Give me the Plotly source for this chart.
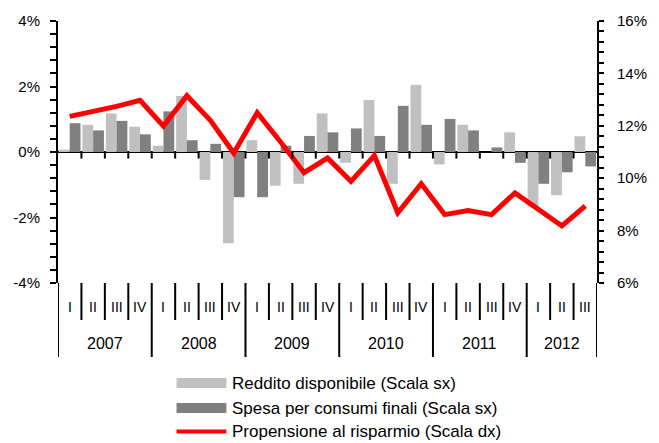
import plotly.graph_objects as go

years = ["2007", "2008", "2009", "2010", "2011", "2012"]
quarters_per_year = [4, 4, 4, 4, 4, 3]
roman = ["I", "II", "III", "IV"]

reddito = [0.07, 0.83, 1.18, 0.77, 0.19, 1.71, -0.85, -2.79, 0.36, -1.03, -0.97, 1.18,
           -0.33, 1.59, -0.97, 2.05, -0.38, 0.83, 0.0, 0.60, -1.67, -1.32, 0.48]
spesa = [0.88, 0.66, 0.95, 0.54, 1.24, 0.36, 0.25, -1.38, -1.38, 0.19, 0.49, 0.60,
         0.72, 0.49, 1.41, 0.83, 1.01, 0.66, 0.14, -0.33, -0.97, -0.62, -0.44]
propensione = [12.36, 12.53, 12.74, 12.97, 11.99, 13.15, 12.21, 10.96, 12.50, 11.38, 10.21, 10.77,
               9.88, 10.86, 8.68, 9.79, 8.61, 8.77, 8.61, 9.44, 8.81, 8.18, 8.94]

names = ["Reddito disponibile (Scala sx)", "Spesa per consumi finali (Scala sx)",
         "Propensione al risparmio (Scala dx)"]

n = len(reddito)
x = list(range(n))

W, H = 659, 443
ML, MR, MT, MB = 58, 60, 21, 160
PH = H - MT - MB
PW = W - ML - MR


def py(pixel_y):
    return (H - MB - pixel_y) / PH


def px(pixel_x):
    return (pixel_x - ML) / PW


FONT = "Liberation Sans, Arial, sans-serif"
LIGHT = "#C0C0C0"
DARK = "#808080"
RED = "#FF0000"

fig = go.Figure()
fig.add_trace(go.Bar(x=x, y=reddito, name=names[0], marker_color=LIGHT,
                     marker_line_width=0, showlegend=False))
fig.add_trace(go.Bar(x=x, y=spesa, name=names[1], marker_color=DARK,
                     marker_line_width=0, showlegend=False))
fig.add_trace(go.Scatter(x=x, y=propensione, name=names[2], yaxis="y2", mode="lines",
                         line=dict(color=RED, width=5), showlegend=False))

shapes = []
annotations = []

# ticks along zero line at category boundaries
for b in range(1, n):
    shapes.append(dict(type="line", xref="x", yref="y", x0=b - 0.5, x1=b - 0.5,
                       y0=0, y1=-0.2, line=dict(color="black", width=2)))

# bottom category separators and labels
idx = 0
for yr, nq in zip(years, quarters_per_year):
    start = idx
    for q in range(nq):
        annotations.append(dict(x=idx, y=py(307), xref="x", yref="paper", text=roman[q],
                                xanchor="center", yanchor="middle",
                                showarrow=False, font=dict(family=FONT, size=14, color="black")))
        if q > 0:
            shapes.append(dict(type="line", xref="x", yref="paper", x0=idx - 0.5, x1=idx - 0.5,
                               y0=0, y1=py(320), line=dict(color="black", width=2)))
        idx += 1
    shapes.append(dict(type="line", xref="x", yref="paper", x0=start - 0.5, x1=start - 0.5,
                       y0=0, y1=py(357), line=dict(color="black", width=2)))
    annotations.append(dict(x=(start + idx - 1) / 2, y=py(344), xref="x", yref="paper", text=yr,
                            xanchor="center", yanchor="middle",
                            showarrow=False, font=dict(family=FONT, size=16, color="black")))
shapes.append(dict(type="line", xref="x", yref="paper", x0=n - 0.5, x1=n - 0.5,
                   y0=0, y1=py(357), line=dict(color="black", width=2)))

# manual legend
legend_rows = [(383, "bar", LIGHT), (408, "bar", DARK), (431.5, "line", RED)]
for (yc, kind, col), nm in zip(legend_rows, names):
    if kind == "bar":
        shapes.append(dict(type="rect", xref="paper", yref="paper", x0=px(177), x1=px(227),
                           y0=py(yc - 5), y1=py(yc + 5), fillcolor=col, line=dict(width=0)))
    else:
        shapes.append(dict(type="line", xref="paper", yref="paper", x0=px(177), x1=px(227),
                           y0=py(yc), y1=py(yc), line=dict(color=col, width=4)))
    annotations.append(dict(x=px(231), y=py(yc), xref="paper", yref="paper", text=nm,
                            xanchor="left", yanchor="middle", showarrow=False,
                            font=dict(family=FONT, size=17, color="black")))

fig.update_layout(
    width=W, height=H,
    margin=dict(l=ML, r=MR, t=MT, b=MB),
    paper_bgcolor="white", plot_bgcolor="white",
    barmode="group", bargap=0.08, bargroupgap=0,
    showlegend=False,
    font=dict(family=FONT, size=15, color="black"),
    xaxis=dict(range=[-0.5, n - 0.5], showticklabels=False, showgrid=False,
               zeroline=False, showline=False, ticks=""),
    yaxis=dict(range=[-4, 4], tickvals=[-4, -2, 0, 2, 4],
               ticktext=["-4%", "-2%", "0%", "2%", "4%"],
               showgrid=False, zeroline=True, zerolinecolor="black", zerolinewidth=2,
               showline=True, linecolor="black", linewidth=2,
               ticks="outside", ticklen=6, tickwidth=2, tickcolor="black",
               minor=dict(dtick=0.4, ticks="outside", ticklen=6, tickwidth=2, tickcolor="black"),
               ticklabelstandoff=7, tickfont=dict(size=15)),
    yaxis2=dict(range=[6, 16], tickvals=[6, 8, 10, 12, 14, 16],
                ticktext=["6%", "8%", "10%", "12%", "14%", "16%"],
                overlaying="y", side="right", showgrid=False, zeroline=False,
                showline=True, linecolor="black", linewidth=2,
                ticks="outside", ticklen=5, tickwidth=2, tickcolor="black",
                minor=dict(dtick=0.4, ticks="outside", ticklen=5, tickwidth=2, tickcolor="black"),
                ticklabelstandoff=10, tickfont=dict(size=15)),
    shapes=shapes,
    annotations=annotations,
)

fig.write_html("out.html", config={"displayModeBar": False},
               post_script="document.body.style.margin='0';")
